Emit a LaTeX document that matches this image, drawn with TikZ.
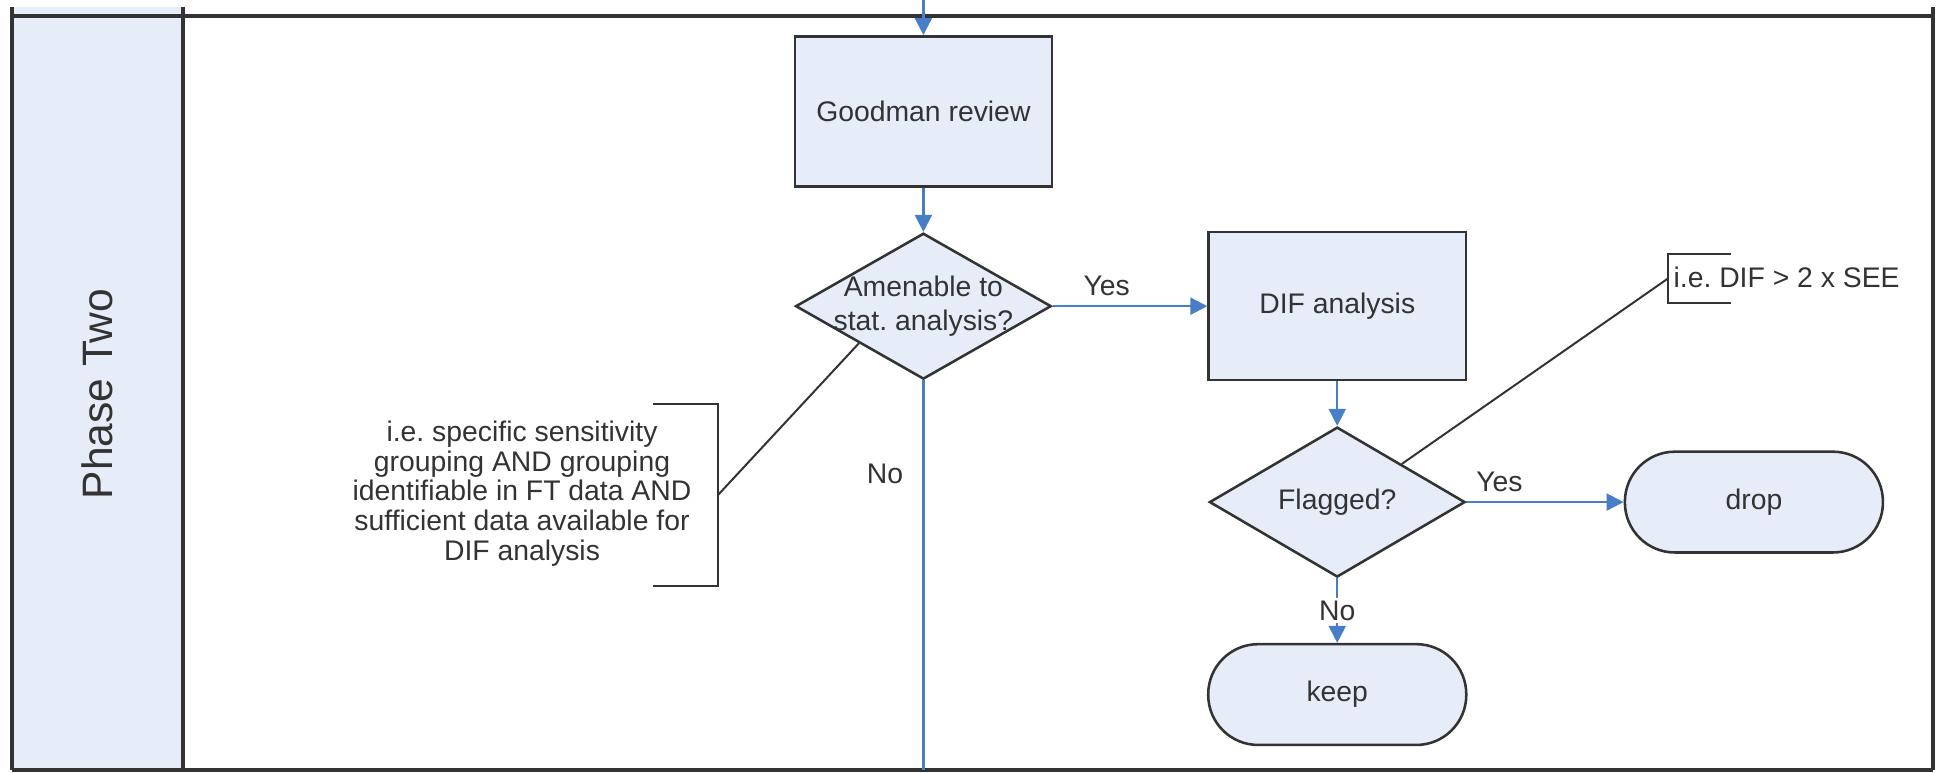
\documentclass[tikz,border=0pt]{standalone}
\usepackage{fontspec}
\setmainfont{Liberation Sans}
\usepackage{xcolor}
\usetikzlibrary{arrows.meta,positioning,shapes.geometric}

\definecolor{boxfill}{RGB}{230,237,248}
\definecolor{flowblue}{RGB}{72,126,200}

\begin{document}
\frenchspacing
\begin{tikzpicture}[
    font=\fontsize{10}{12}\selectfont,
    process/.style={rectangle, draw=black!80, line width=0.9pt, fill=boxfill,
                    text=black!80, minimum width=3.19cm, minimum height=1.86cm},
    decision/.style={diamond, draw=black!80, line width=0.9pt, fill=boxfill,
                     text=black!80, inner sep=0pt, minimum width=3.17cm,
                     minimum height=1.81cm},
    terminal/.style={rectangle, rounded corners=0.62cm, draw=black!80,
                     line width=0.9pt, fill=boxfill, text=black!80,
                     minimum width=3.2cm, minimum height=1.25cm},
    flow/.style={-{Triangle[length=6pt,width=6pt]}, flowblue, line width=0.8pt},
    answer/.style={text=black!80},
    note/.style={text=black!80, align=center},
    lane/.style={line width=1.1pt, black!80},
    annot/.style={line width=0.7pt, black!80}
]

\useasboundingbox (0,0) rectangle (24.093,-9.585);

% swimlane frame
\fill[boxfill] (0.149,-0.087) rectangle (2.269,-9.548);
\draw[lane] (0.149,-0.087) -- (0.149,-9.548);
\draw[lane] (2.269,-0.087) -- (2.269,-9.548);
\draw[lane] (23.969,-0.087) -- (23.969,-9.548);
\draw[lane] (0.149,-0.198) -- (23.969,-0.198);
\draw[lane] (0.149,-9.548) -- (23.969,-9.548);
\node[rotate=90, text=black!80, font=\fontsize{15}{18}\selectfont] (phase) at (1.209,-4.886) {Phase Two};

% flow chart
\node[process] (goodman) at (11.45,-1.38) {Goodman review};
\node[decision, below=0.55cm of goodman,
      label={[note]center:Amenable to\\stat. analysis?}] (amen) {};
\node[process, right=1.92cm of amen, minimum height=1.835cm] (dif) {DIF analysis};
\node[decision, below=0.55cm of dif, minimum height=1.86cm] (flag) {Flagged?};
\node[terminal, right=1.95cm of flag] (drop) {drop};
\node[terminal, below=0.8cm of flag] (keep) {keep};

\coordinate (entry) at (goodman.north |- 0,0);
\coordinate (exit) at (amen.south |- 0,-9.548);

\draw[flow] (entry) -- (goodman);
\draw[flow] (goodman) -- (amen);
\draw[flow] (amen) -- node[answer, above, pos=0.35]{Yes} (dif);
\draw[flow] (dif) -- (flag);
\draw[flow] (flag) -- node[answer, above, pos=0.21]{Yes} (drop);
\draw[flow] (flag) -- node[answer, fill=white, inner sep=1pt]{No} (keep);
\draw[flowblue, line width=0.8pt] (amen.south) -- node[answer, pos=0.24, left=0.12cm]{No} (exit);

% annotations
\node[note, font=\fontsize{10}{10.5}\selectfont] (cond) at (6.473,-6.12) {i.e. specific sensitivity\\grouping AND grouping\\identifiable in FT data AND\\sufficient data available for\\DIF analysis};
\draw[annot] (8.097,-5.010) -- (8.903,-5.010) -- (8.903,-7.266) -- (8.097,-7.266);
\coordinate (condtip) at (8.903,-6.138);
\draw[annot] (condtip) -- (amen.south west);

\node[note, anchor=west, inner sep=0pt] (crit) at (20.745,-3.435) {i.e. DIF > 2 x SEE};
\draw[annot] (21.464,-3.150) -- (20.683,-3.150) -- (20.683,-3.757) -- (21.464,-3.757);
\coordinate (crittip) at (20.683,-3.453);
\draw[annot] (crittip) -- (flag.north east);

\end{tikzpicture}
\end{document}
